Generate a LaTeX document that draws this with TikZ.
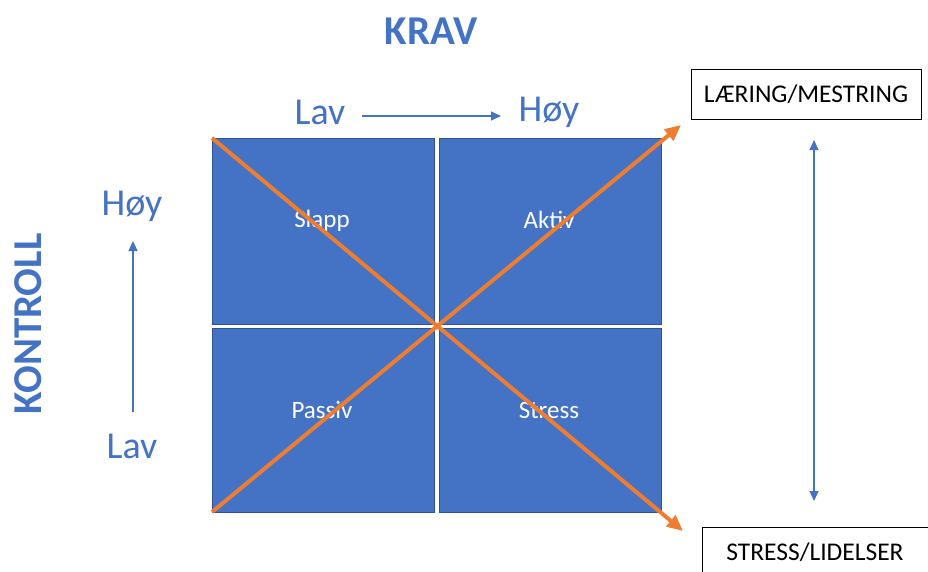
\documentclass[tikz,border=0pt]{standalone}
\usepackage{fontspec}
\setmainfont{Carlito}
\usetikzlibrary{arrows.meta}
\definecolor{offblue}{HTML}{4472C4}
\definecolor{offborder}{HTML}{2F528F}
\definecolor{offorange}{HTML}{ED7D31}
\begin{document}
\begin{tikzpicture}[x=1pt,y=-1pt,
  cell/.style={draw=offborder,line width=1pt,fill=offblue,minimum width=222pt,minimum height=186pt,inner sep=0pt},
  celltext/.style={text=white,font=\fontsize{25}{29}\selectfont},
  axistext/.style={text=offblue,font=\fontsize{38}{44}\selectfont},
  titletext/.style={text=offblue,font=\fontsize{41}{47}\selectfont\bfseries},
  outbox/.style={draw=black,line width=1pt,fill=white,font=\fontsize{25.5}{29}\selectfont,inner sep=0pt},
  thinarrow/.style={draw=offblue,line width=1.1pt,-{Triangle[length=10pt,width=9pt]}},
  orangearrow/.style={draw=offorange,line width=4pt}]
\useasboundingbox (0,0) rectangle (928,571);
% cells
\node[cell,minimum height=186pt] (tl) at (323,231) {};
\node[cell,minimum height=186pt] (tr) at (550,231) {};
\node[cell,minimum height=184pt] (bl) at (323,420) {};
\node[cell,minimum height=184pt] (br) at (550,420) {};
\node[celltext] (slapp) at (322,221) {Slapp};
\node[celltext] (aktiv) at (549,220) {Aktiv};
\node[celltext] (passiv) at (322,410) {Passiv};
\node[celltext] (stress) at (549,410) {Stress};
% titles
\node[titletext] (krav) at (431,31) {KRAV};
\node[titletext,rotate=90] (kontroll) at (28,324) {KONTROLL};
% top axis
\node[axistext] (lavtop) at (320,112) {Lav};
\node[axistext] (hoytop) at (549,112) {Høy};
\coordinate (ha) at (362,116);
\coordinate (hb) at (501,116);
\draw[thinarrow] (ha) -- (hb);
% left axis
\node[axistext] (hoyleft) at (132,206) {Høy};
\node[axistext] (lavleft) at (132,446) {Lav};
\coordinate (va) at (133,412);
\coordinate (vb) at (133,241);
\draw[thinarrow] (va) -- (vb);
% outcome boxes
\node[outbox,minimum width=230pt,minimum height=50pt] (laering) at (806,94) {LÆRING/MESTRING};
\node[outbox,minimum width=226pt,minimum height=50pt] (stressbox) at (815,552) {STRESS/LIDELSER};
\coordinate (ra) at (814,140);
\coordinate (rb) at (814,501);
\draw[thinarrow,{Triangle[length=10pt,width=9pt]}-{Triangle[length=10pt,width=9pt]}] (ra) -- (rb);
% orange diagonals
\coordinate (c1) at (212,138);
\coordinate (c2) at (212,512);
\coordinate (t1) at (683,531);
\coordinate (t2) at (681,125);
\draw[orangearrow,-{Triangle[length=16pt,width=14pt]}] (c1) -- (t1);
\draw[orangearrow,-{Triangle[length=16pt,width=14pt]}] (c2) -- (t2);
\end{tikzpicture}
\end{document}
